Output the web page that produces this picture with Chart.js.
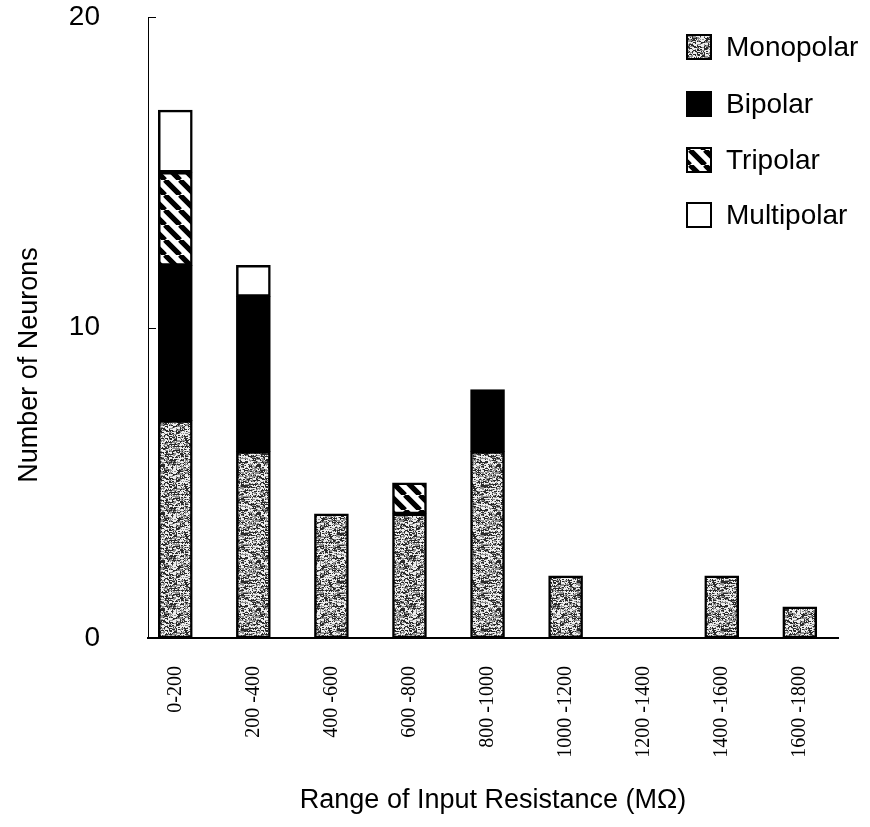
<!DOCTYPE html>
<html>
<head>
<meta charset="utf-8">
<script src="https://cdn.jsdelivr.net/npm/chart.js@4.4.1/dist/chart.umd.min.js"></script>
<style>
  html, body { margin: 0; padding: 0; background: #fff; }
</style>
</head>
<body>
<canvas id="neuronChart" width="870" height="827"></canvas>
<script>
const categories = ['0-200', '200 -400', '400 -600', '600 -800', '800 -1000', '1000 -1200', '1200 -1400', '1400 -1600', '1600 -1800'];
const monopolar = [7, 6, 4, 4, 6, 2, 0, 2, 1];
const bipolar = [5, 5, 0, 0, 2, 0, 0, 0, 0];
const tripolar = [3, 0, 0, 1, 0, 0, 0, 0, 0];
const multipolar = [2, 1, 0, 0, 0, 0, 0, 0, 0];
const yTicks = [0, 10, 20];

// speckled grey fill (horizontal streaks) used for monopolar
function greyTexture() {
    const w = 48, h = 48;
    const c = document.createElement('canvas');
    c.width = w; c.height = h;
    const g = c.getContext('2d');
    g.fillStyle = '#2a2a2a';
    g.fillRect(0, 0, w, h);
    for (let y = 0; y < h; y++) {
        let x = 0;
        while (x < w) {
            const k = ((x * 73856093) ^ (y * 19349663) ^ ((x + y) * 83492791)) >>> 0;
            const len = 1 + (k % 4);
            const pick = (k >>> 8) % 10;
            if (pick < 4) {
                g.fillStyle = '#eeeeee';
                g.fillRect(x, y, len, 1);
            } else if (pick < 7) {
                g.fillStyle = '#8e8e8e';
                g.fillRect(x, y, len, 1);
            }
            x += len;
        }
    }
    return g.createPattern(c, 'repeat');
}

// black/white diagonal stripes used for tripolar
function stripes() {
    const s = 15;
    const c = document.createElement('canvas');
    c.width = s; c.height = s;
    const g = c.getContext('2d');
    g.fillStyle = '#fff';
    g.fillRect(0, 0, s, s);
    g.strokeStyle = '#000';
    g.lineWidth = 5.3;
    g.beginPath();
    [-s, 0, s].forEach(o => { g.moveTo(o, 0); g.lineTo(o + s, s); });
    g.stroke();
    return g.createPattern(c, 'repeat');
}

const fills = [greyTexture(), '#000', stripes(), '#fff'];
const names = ['Monopolar', 'Bipolar', 'Tripolar', 'Multipolar'];
const series = [monopolar, bipolar, tripolar, multipolar];

const toPoints = arr => arr.map((v, i) => ({ x: i, y: v === 0 ? null : v }));

// legend drawn inside the plot, top right
const legendInside = {
    id: 'legendInside',
    afterDraw(chart) {
        const ctx = chart.ctx;
        const rows = [47, 104, 160, 215];
        ctx.save();
        ctx.font = '28px "Liberation Sans", Arial, sans-serif';
        ctx.textBaseline = 'middle';
        names.forEach((n, i) => {
            const y = rows[i];
            ctx.fillStyle = fills[i];
            ctx.fillRect(687, y - 12, 24, 24);
            ctx.lineWidth = 2;
            ctx.strokeStyle = '#000';
            ctx.strokeRect(687, y - 12, 24, 24);
            ctx.fillStyle = '#000';
            ctx.fillText(n, 726, y + 1);
        });
        ctx.restore();
    }
};

// y title sits a bit below the middle of the axis in the original
const yTitle = {
    id: 'yTitle',
    afterDraw(chart) {
        const ctx = chart.ctx;
        ctx.save();
        ctx.translate(30, 365);
        ctx.rotate(-Math.PI / 2);
        ctx.font = '27px "Liberation Sans", Arial, sans-serif';
        ctx.fillStyle = '#000';
        ctx.textAlign = 'center';
        ctx.textBaseline = 'middle';
        ctx.fillText('Number of Neurons', 0, 0);
        ctx.restore();
    }
};

// small inward tick marks on the y axis
const innerTicks = {
    id: 'innerTicks',
    afterDatasetsDraw(chart) {
        const ctx = chart.ctx;
        const ys = chart.scales.y;
        ctx.save();
        ctx.strokeStyle = '#000';
        ctx.lineWidth = 1;
        yTicks.slice(1).forEach(v => {
            const py = Math.round(ys.getPixelForValue(v)) + 0.5;
            ctx.beginPath();
            ctx.moveTo(ys.right, py);
            ctx.lineTo(ys.right + 8, py);
            ctx.stroke();
        });
        ctx.restore();
    }
};

const ctx = document.getElementById('neuronChart').getContext('2d');
new Chart(ctx, {
    type: 'bar',
    data: {
        datasets: series.map((s, i) => ({
            label: names[i],
            data: toPoints(s),
            backgroundColor: fills[i],
            borderColor: '#000',
            borderWidth: 2.5,
            borderSkipped: false,
            barThickness: 34
        }))
    },
    options: {
        responsive: false,
        animation: false,
        layout: { padding: { top: 17, right: 32, left: 0, bottom: 0 } },
        plugins: {
            legend: { display: false },
            tooltip: { enabled: false }
        },
        scales: {
            x: {
                type: 'linear',
                stacked: true,
                offset: false,
                min: -0.35,
                max: 8.49,
                grid: { display: false, drawTicks: false, offset: false },
                border: { color: '#000', width: 2 },
                ticks: {
                    stepSize: 1,
                    includeBounds: false,
                    autoSkip: false,
                    minRotation: 90,
                    maxRotation: 90,
                    padding: 28,
                    color: '#000',
                    font: { family: '"Liberation Serif", "Times New Roman", serif', size: 20 },
                    callback: v => Number.isInteger(v) ? categories[v] : ''
                },
                title: {
                    display: true,
                    text: 'Range of Input Resistance (M\u03A9)',
                    color: '#000',
                    font: { family: '"Liberation Sans", Arial, sans-serif', size: 27 },
                    padding: { top: 0, bottom: 10 }
                },
                afterFit(s) {
                    s.height = 189;
                    s.paddingLeft = 0; s.paddingRight = 0;
                    s.paddingTop = 0; s.paddingBottom = 0;
                }
            },
            y: {
                stacked: true,
                min: 0,
                max: 20,
                grid: { display: false, drawTicks: false },
                border: { color: '#000', width: 1 },
                ticks: {
                    stepSize: 10,
                    padding: 48,
                    color: '#000',
                    font: { family: '"Liberation Sans", Arial, sans-serif', size: 28 }
                },
                title: { display: false },
                afterFit(s) {
                    s.width = 148;
                    s.paddingLeft = 0; s.paddingRight = 0;
                    s.paddingTop = 0; s.paddingBottom = 0;
                }
            }
        }
    },
    plugins: [legendInside, innerTicks, yTitle]
});
</script>
</body>
</html>
